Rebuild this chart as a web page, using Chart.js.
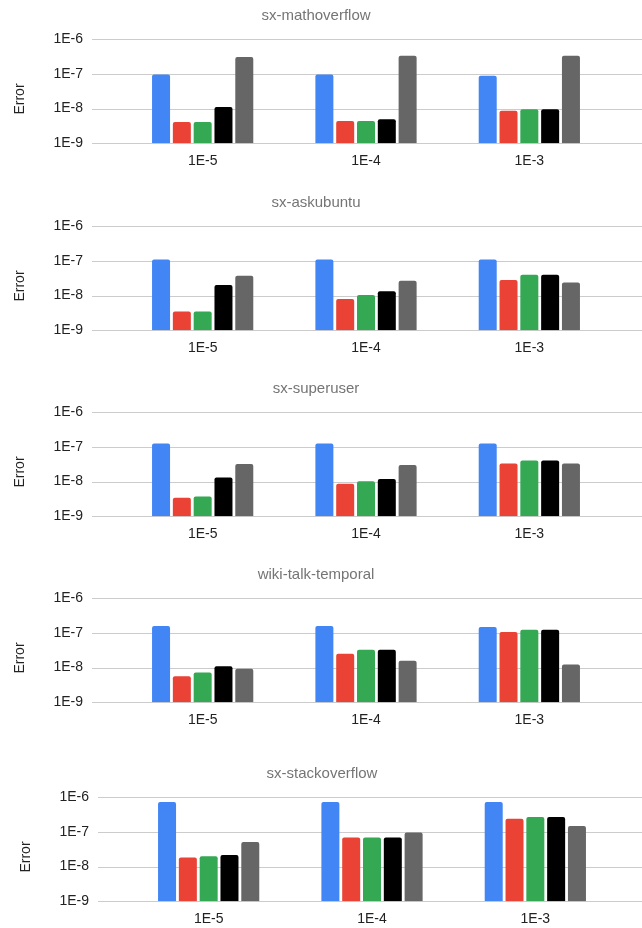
<!DOCTYPE html>
<html>
<head>
<meta charset="utf-8">
<script src="https://cdn.jsdelivr.net/npm/chart.js@4"></script>
<style>
  body { margin: 0; background: #fff; width: 642px; height: 928px; overflow: hidden; position: relative; }
  canvas { position: absolute; left: 0; }
</style>
</head>
<body>
<canvas id="c0" width="642" height="170" style="top:0px"></canvas>
<canvas id="c1" width="642" height="170" style="top:186.7px"></canvas>
<canvas id="c2" width="642" height="170" style="top:373px"></canvas>
<canvas id="c3" width="642" height="170" style="top:558.7px"></canvas>
<canvas id="c4" width="642" height="170" style="top:758.3px"></canvas>
<script>
var categories = ['1E-5', '1E-4', '1E-3'];
var panelTitles = ['sx-mathoverflow', 'sx-askubuntu', 'sx-superuser', 'wiki-talk-temporal', 'sx-stackoverflow'];
var yTickValues = [1e-9, 1e-8, 1e-7, 1e-6];
var yTickLabels = ['1E-9', '1E-8', '1E-7', '1E-6'];

// one row per panel, one value per category
var blueSeries = [
	[9.6e-8, 9.6e-8, 8.8e-8],
	[1.08e-7, 1.08e-7, 1.08e-7],
	[1.25e-7, 1.25e-7, 1.25e-7],
	[1.56e-7, 1.56e-7, 1.46e-7],
	[7.2e-7, 7.2e-7, 7.2e-7]
];
var redSeries = [
	[4.1e-9, 4.4e-9, 8.7e-9],
	[3.5e-9, 8.0e-9, 2.8e-8],
	[3.4e-9, 8.6e-9, 3.3e-8],
	[5.6e-9, 2.5e-8, 1.05e-7],
	[1.82e-8, 6.85e-8, 2.38e-7]
];
var greenSeries = [
	[4.1e-9, 4.4e-9, 9.6e-9],
	[3.5e-9, 1.04e-8, 3.95e-8],
	[3.7e-9, 1.02e-8, 4.0e-8],
	[7.2e-9, 3.25e-8, 1.22e-7],
	[1.99e-8, 6.85e-8, 2.66e-7]
];
var blackSeries = [
	[1.1e-8, 4.95e-9, 9.6e-9],
	[2.0e-8, 1.33e-8, 3.95e-8],
	[1.3e-8, 1.19e-8, 4.0e-8],
	[1.09e-8, 3.25e-8, 1.22e-7],
	[2.13e-8, 6.85e-8, 2.66e-7]
];
var graySeries = [
	[3.05e-7, 3.3e-7, 3.3e-7],
	[3.7e-8, 2.65e-8, 2.37e-8],
	[3.2e-8, 3.0e-8, 3.3e-8],
	[9.2e-9, 1.56e-8, 1.22e-8],
	[5.06e-8, 9.6e-8, 1.46e-7]
];

var colors = ['#4285F4', '#EA4335', '#34A853', '#000000', '#666666'];

Chart.defaults.font.family = '"Liberation Sans", Arial, sans-serif';
Chart.defaults.font.size = 14;
Chart.defaults.color = '#222222';

function makePanel(i) {
	var shift = (i === 4) ? 6 : 0;
	var series = [blueSeries[i], redSeries[i], greenSeries[i], blackSeries[i], graySeries[i]];
	var datasets = series.map(function (vals, k) {
		return {
			label: 'Series ' + (k + 1),
			data: vals,
			backgroundColor: colors[k],
			borderWidth: 0,
			borderRadius: 2,
			categoryPercentage: 0.637,
			barPercentage: 0.865
		};
	});

	// grid lines run past the plot area, like the original
	var gridPlugin = {
		id: 'wideGrid',
		beforeDatasetsDraw: function (chart) {
			var ctx = chart.ctx, y = chart.scales.y;
			ctx.save();
			ctx.strokeStyle = '#cccccc';
			ctx.lineWidth = 1;
			y.ticks.forEach(function (t) {
				var py = Math.round(y.getPixelForValue(t.value)) + 0.5;
				ctx.beginPath();
				ctx.moveTo(92 + shift, py);
				ctx.lineTo(chart.width, py);
				ctx.stroke();
			});
			ctx.restore();
		}
	};
	var axisLabel = {
		id: 'axisLabel',
		afterDraw: function (chart) {
			var ctx = chart.ctx;
			ctx.save();
			ctx.translate(20 + shift, chart.chartArea.top + 60);
			ctx.rotate(-Math.PI / 2);
			ctx.font = '14px "Liberation Sans", Arial, sans-serif';
			ctx.fillStyle = '#222222';
			ctx.textAlign = 'center';
			ctx.textBaseline = 'middle';
			ctx.fillText('Error', 0, 0);
			ctx.restore();
		}
	};

	var ctx = document.getElementById('c' + i).getContext('2d');
	return new Chart(ctx, {
		type: 'bar',
		data: { labels: categories, datasets: datasets },
		plugins: [gridPlugin, axisLabel],
		options: {
			responsive: false,
			animation: false,
			layout: { padding: { left: 21 + shift, right: 31 - shift, top: 0, bottom: 0 } },
			plugins: {
				legend: { display: false },
				tooltip: { enabled: false },
				title: {
					display: true,
					text: panelTitles[i],
					color: '#757575',
					font: { size: 15, weight: 'normal' },
					padding: { top: 7, bottom: 14 }
				}
			},
			scales: {
				x: {
					grid: { display: false, drawTicks: false },
					border: { display: false },
					afterFit: function (scale) { scale.height = 26.7; },
					ticks: { padding: 9, color: '#222222', maxRotation: 0 }
				},
				y: {
					type: 'logarithmic',
					min: 1e-9,
					max: 1e-6,
					grid: { display: false, drawTicks: true, tickLength: 38 },
					border: { display: false },
					afterBuildTicks: function (scale) {
						scale.ticks = yTickValues.map(function (v) { return { value: v }; });
					},
					afterFit: function (scale) {
						scale.width = 100;
						scale.paddingTop = 0;
						scale.paddingBottom = 0;
					},
					ticks: {
						padding: 0,
						color: '#222222',
						callback: function (v) { return yTickLabels[yTickValues.indexOf(v)]; }
					}
				}
			}
		}
	});
}

for (var i = 0; i < panelTitles.length; i++) makePanel(i);
</script>
</body>
</html>
